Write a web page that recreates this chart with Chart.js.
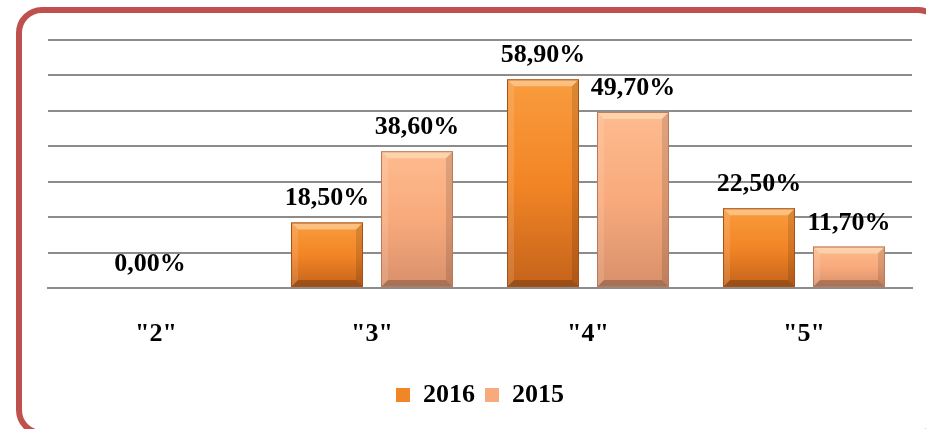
<!DOCTYPE html>
<html>
<head>
<meta charset="utf-8">
<script src="https://cdn.jsdelivr.net/npm/chart.js@4.4.0/dist/chart.umd.min.js"></script>
<style>
  html, body { margin: 0; padding: 0; background: #fff; }
  #wrap { position: relative; width: 926px; height: 429px; overflow: hidden; }
  #frame {
    position: absolute; left: 16px; top: 7px; width: 928px; height: 429px;
    border: 6px solid #c0504d; border-radius: 26px; box-sizing: border-box;
  }
  #myChart { position: absolute; left: 0; top: 0; }
</style>
</head>
<body>
<div id="wrap">
  <div id="frame"></div>
  <canvas id="myChart" width="926" height="429"></canvas>
</div>
<script>
// dados do gráfico
var categorias = ['"2"', '"3"', '"4"', '"5"'];
var anos = ['2016', '2015'];
var valores2016 = [0, 18.5, 58.9, 22.5];
var valores2015 = [null, 38.6, 49.7, 11.7];

var cores = [
    { base: '#f28526', top: '#f99c3e', bottom: '#c5631b', borda: '#a3521a' },
    { base: '#f8aa7c', top: '#fdbb8e', bottom: '#d8906b', borda: '#b87a5b' }
];

var fonte = "'Liberation Serif', 'Times New Roman', serif";

// desenha gradiente + bisel nas barras
var biselPlugin = {
    id: 'bisel',
    afterDatasetsDraw: function (chart) {
        var ctx = chart.ctx;
        chart.data.datasets.forEach(function (ds, i) {
            var meta = chart.getDatasetMeta(i);
            var c = cores[i];
            meta.data.forEach(function (bar) {
                var p = bar.getProps(['x', 'y', 'base', 'width']);
                var l = p.x - p.width / 2, r = p.x + p.width / 2;
                var t = p.y, b = p.base;
                if (!(b - t > 1)) return;
                var g = ctx.createLinearGradient(0, t, 0, b);
                g.addColorStop(0, c.top);
                g.addColorStop(0.5, c.base);
                g.addColorStop(1, c.bottom);
                ctx.save();
                ctx.fillStyle = g;
                ctx.fillRect(l, t, r - l, b - t);
                var s = Math.min(7, (b - t) / 2);
                function poly(pts, cor) {
                    ctx.beginPath();
                    ctx.moveTo(pts[0][0], pts[0][1]);
                    for (var k = 1; k < pts.length; k++) ctx.lineTo(pts[k][0], pts[k][1]);
                    ctx.closePath();
                    ctx.fillStyle = cor;
                    ctx.fill();
                }
                poly([[l, t], [r, t], [r - s, t + s], [l + s, t + s]], 'rgba(255,240,210,0.45)');
                poly([[l, t], [l + s, t + s], [l + s, b - s], [l, b]], 'rgba(255,255,255,0.12)');
                poly([[r, t], [r - s, t + s], [r - s, b - s], [r, b]], 'rgba(0,0,0,0.12)');
                poly([[l, b], [l + s, b - s], [r - s, b - s], [r, b]], 'rgba(0,0,0,0.22)');
                ctx.strokeStyle = c.borda;
                ctx.lineWidth = 1;
                ctx.strokeRect(l + 0.5, t + 0.5, r - l - 1, b - t - 1);
                ctx.restore();
            });
        });
    }
};

// rótulos de valor acima das barras
var rotulosPlugin = {
    id: 'rotulos',
    afterDatasetsDraw: function (chart) {
        var ctx = chart.ctx;
        var xScale = chart.scales.x;
        ctx.save();
        ctx.font = 'bold 26px ' + fonte;
        ctx.fillStyle = '#000';
        ctx.textAlign = 'center';
        ctx.textBaseline = 'alphabetic';
        chart.data.datasets.forEach(function (ds, i) {
            var meta = chart.getDatasetMeta(i);
            meta.data.forEach(function (bar, j) {
                var v = ds.data[j];
                if (v === null || v === undefined) return;
                var x = bar.x;
                if (v === 0) x = xScale.getPixelForValue(j) - 6;
                var txt = v.toFixed(2).replace('.', ',') + '%';
                ctx.fillText(txt, x, bar.y - 17);
            });
        });
        ctx.restore();
    }
};

var config = {
    type: 'bar',
    data: {
        labels: categorias,
        datasets: [{
            label: anos[0],
            data: valores2016,
            backgroundColor: cores[0].base,
            borderColor: cores[0].borda,
            borderWidth: 0
        }, {
            label: anos[1],
            data: valores2015,
            backgroundColor: cores[1].base,
            borderColor: cores[1].borda,
            borderWidth: 0
        }]
    },
    options: {
        responsive: false,
        animation: false,
        layout: { padding: { left: 48, right: 14, top: 40, bottom: 11 } },
        categoryPercentage: 0.833,
        barPercentage: 0.8,
        scales: {
            x: {
                grid: { display: false },
                border: { display: true, color: '#8c8c8c', width: 2 },
                ticks: {
                    color: '#000',
                    padding: 23,
                    font: { family: fonte, size: 26, weight: 'bold' }
                },
                afterFit: function (axis) { axis.height = 84; }
            },
            y: {
                min: 0,
                max: 70,
                ticks: { display: false, stepSize: 10 },
                border: { display: false },
                grid: { color: '#8c8c8c', lineWidth: 2, drawTicks: false },
                afterFit: function (axis) { axis.width = 0; }
            }
        },
        plugins: {
            legend: {
                position: 'bottom',
                labels: {
                    color: '#000',
                    boxWidth: 14,
                    boxHeight: 14,
                    padding: 10,
                    font: { family: fonte, size: 26, weight: 'bold' }
                }
            },
            tooltip: { enabled: false }
        }
    },
    plugins: [biselPlugin, rotulosPlugin]
};

var myChart = new Chart(document.getElementById('myChart'), config);
</script>
</body>
</html>
